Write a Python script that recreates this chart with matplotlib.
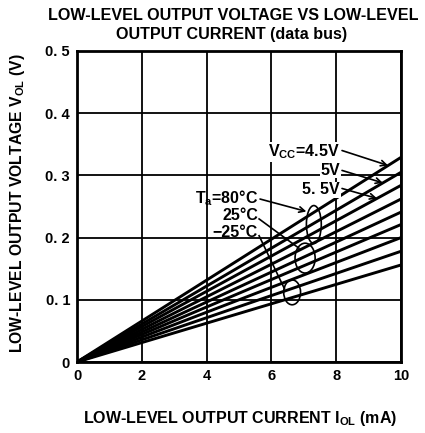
import matplotlib
matplotlib.use("Agg")
import matplotlib.pyplot as plt
from matplotlib.patches import Ellipse
import numpy as np

plt.rcParams['font.family'] = ['Liberation Sans', 'DejaVu Sans']

# Data: V_OL at I_OL = 10 mA for each curve (straight lines from origin)
current_end = [0, 10]
temps = ["80°C", "25°C", "-25°C"]
vcc = ["4.5V", "5V", "5.5V"]
vol_80 = [0.329, 0.305, 0.284]
vol_25 = [0.262, 0.241, 0.221]
vol_m25 = [0.200, 0.178, 0.156]

x_ticks = [0, 2, 4, 6, 8, 10]
x_tick_labels = ["0", "2", "4", "6", "8", "10"]
y_ticks = [0, 0.1, 0.2, 0.3, 0.4, 0.5]
y_tick_labels = ["0", "0. 1", "0. 2", "0. 3", "0. 4", "0. 5"]

fig = plt.figure(figsize=(4.25, 4.33), dpi=100)
ax = fig.add_axes([77/425, 1 - 362/433, (401-77)/425, (362-51)/433])
ax.set_xlim(0, 10)
ax.set_ylim(0, 0.5)
ax.set_xticks(x_ticks)
ax.set_xticklabels(x_tick_labels)
ax.set_yticks(y_ticks)
ax.set_yticklabels(y_tick_labels)
ax.tick_params(length=0, labelsize=10.5, pad=5)
for lab in ax.get_xticklabels() + ax.get_yticklabels():
    lab.set_fontweight('bold')
ax.grid(True, color='black', lw=1.3)
for s in ax.spines.values():
    s.set_linewidth(2)
    s.set_color('black')

for group in (vol_80, vol_25, vol_m25):
    for v in group:
        ax.plot(current_end, [0, v], color='black', lw=2.1, solid_capstyle='butt')

# Ellipses grouping temperatures
ells = [(7.31, 0.221, 0.46, 0.061), (7.04, 0.167, 0.62, 0.048), (6.64, 0.112, 0.52, 0.040)]
for (cx, cy, w, h) in ells:
    ax.add_patch(Ellipse((cx, cy), w, h, fill=False, ec='black', lw=1.2, zorder=5))

fs = 11.5
bbox = dict(facecolor='white', edgecolor='none', pad=0.3)
# Vcc labels
ax.text(8.12, 0.338, r"V$_{\mathregular{CC}}$=4.5V", fontsize=fs, fontweight='bold', va='center', ha='right', bbox=bbox)
ax.text(8.12, 0.308, "5V", fontsize=fs, fontweight='bold', va='center', ha='right', bbox=bbox)
ax.text(8.12, 0.277, "5. 5V", fontsize=fs, fontweight='bold', va='center', ha='right', bbox=bbox)
arrow = dict(arrowstyle='->', color='black', lw=1.2, shrinkA=0, shrinkB=0)
ax.annotate("", xy=(9.6, 0.316), xytext=(8.18, 0.340), arrowprops=arrow)
ax.annotate("", xy=(9.44, 0.288), xytext=(8.18, 0.308), arrowprops=arrow)
ax.annotate("", xy=(9.26, 0.263), xytext=(8.18, 0.279), arrowprops=arrow)

# Ta labels
ax.text(5.59, 0.264, r"T$_{\mathregular{a}}$=80°C", fontsize=fs, fontweight='bold', va='center', ha='right')
ax.text(5.59, 0.235, "25°C", fontsize=fs, fontweight='bold', va='center', ha='right')
ax.text(5.59, 0.208, "−25°C", fontsize=fs, fontweight='bold', va='center', ha='right')
ax.annotate("", xy=(7.08, 0.242), xytext=(5.65, 0.262), arrowprops=arrow)
ax.plot([5.62, 6.85], [0.230, 0.183], color='black', lw=1.2)
ax.plot([5.62, 6.40], [0.203, 0.118], color='black', lw=1.2)

fig.text(233/425, 1 - 16/433, "LOW-LEVEL OUTPUT VOLTAGE VS LOW-LEVEL", ha='center', va='center',
         fontsize=11.6, fontweight='bold')
fig.text(232/425, 1 - 34/433, "OUTPUT CURRENT (data bus)", ha='center', va='center',
         fontsize=11.6, fontweight='bold')
fig.text(240/425, 1 - 419/433, r"LOW-LEVEL OUTPUT CURRENT I$_{\mathregular{OL}}$ (mA)", ha='center', va='center',
         fontsize=11.5, fontweight='bold')
fig.text(18/425, 1 - 203/433, r"LOW-LEVEL OUTPUT VOLTAGE V$_{\mathregular{OL}}$ (V)", ha='center', va='center',
         fontsize=11.3, fontweight='bold', rotation=90)

fig.savefig("out.png", dpi=100)
